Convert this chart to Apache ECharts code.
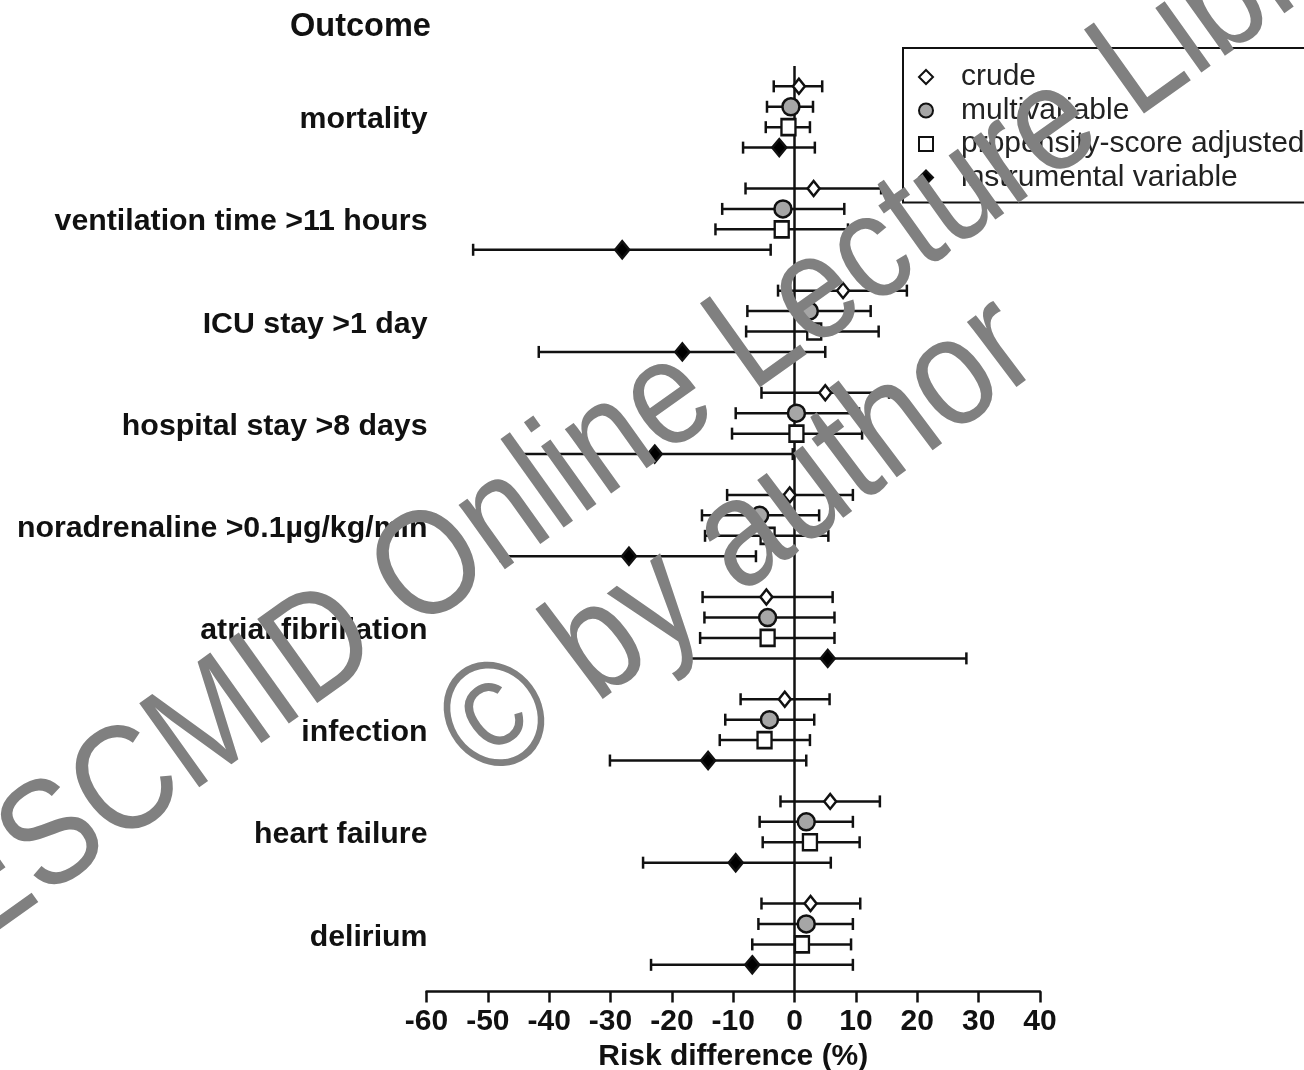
<!DOCTYPE html>
<html>
<head>
<meta charset="utf-8">
<title>Risk difference by outcome</title>
<script src="https://cdn.jsdelivr.net/npm/echarts@6/dist/echarts.min.js"></script>
<style>
  html, body { margin: 0; padding: 0; background: #fff; }
  #chart { width: 1304px; height: 1070px; }
</style>
</head>
<body>
<div id="chart"></div>
<script>
// outcomes, top to bottom
const outcomes = ['mortality', 'ventilation time >11 hours', 'ICU stay >1 day', 'hospital stay >8 days',
  'noradrenaline >0.1µg/kg/min', 'atrial fibrillation', 'infection', 'heart failure', 'delirium'];

// risk difference (%) with lower / upper CI, one value per outcome
const crudeEst  = [0.7, 3.1, 7.9, 5.0, -0.8, -4.6, -1.6, 5.8, 2.6];
const crudeLow  = [-3.4, -8.0, -2.7, -5.4, -11.0, -15.0, -8.8, -2.3, -5.4];
const crudeHigh = [4.5, 14.1, 18.3, 15.4, 9.5, 6.2, 5.7, 13.9, 10.7];

const multiEst  = [-0.6, -1.9, 2.4, 0.3, -5.7, -4.4, -4.1, 1.9, 1.9];
const multiLow  = [-4.5, -11.8, -7.7, -9.6, -15.1, -14.7, -11.3, -5.7, -5.9];
const multiHigh = [3.0, 8.1, 12.4, 10.5, 4.0, 6.5, 3.2, 9.5, 9.5];

const propEst  = [-1.0, -2.1, 3.2, 0.3, -4.4, -4.4, -4.9, 2.5, 1.2];
const propLow  = [-4.7, -12.9, -7.9, -10.2, -14.6, -15.4, -12.2, -5.2, -6.9];
const propHigh = [2.5, 8.7, 13.7, 11.0, 5.5, 6.5, 2.5, 10.6, 9.2];

const ivEst  = [-2.5, -28.1, -18.3, -22.8, -27.0, 5.4, -14.1, -9.6, -6.9];
const ivLow  = [-8.4, -52.4, -41.7, -44.9, -47.9, -17.4, -30.1, -24.7, -23.4];
const ivHigh = [3.3, -3.9, 5.0, -0.3, -6.3, 28.0, 1.9, 5.9, 9.5];

const methodNames = ['crude', 'multivariable', 'propensity-score adjusted', 'instrumental variable'];

const FONT = '"Liberation Sans", Arial, Helvetica, sans-serif';

// marker look per method
const methods = [
  { name: methodNames[0], est: crudeEst, low: crudeLow, high: crudeHigh, symbol: 'diamond', size: [12, 15], fill: '#fff' },
  { name: methodNames[1], est: multiEst, low: multiLow, high: multiHigh, symbol: 'circle', size: 17, fill: '#a6a6a6' },
  { name: methodNames[2], est: propEst, low: propLow, high: propHigh, symbol: 'rect', size: [14, 16], fill: '#fff' },
  { name: methodNames[3], est: ivEst, low: ivLow, high: ivHigh, symbol: 'diamond', size: [14, 17], fill: '#000' }
];

// each outcome takes 5 slots: 4 rows + a gap
function rowPos(g, r) { return g * 5 + r + 1; }

const ciData = [];
methods.forEach((m, r) => {
  m.est.forEach((v, g) => ciData.push([m.low[g], m.high[g], rowPos(g, r)]));
});

function renderCI(params, api) {
  const pos = api.value(2);
  const a = api.coord([api.value(0), pos]);
  const b = api.coord([api.value(1), pos]);
  const st = { stroke: '#111', lineWidth: 2.5 };
  const cap = 6;
  return {
    type: 'group',
    children: [
      { type: 'line', shape: { x1: a[0], y1: a[1], x2: b[0], y2: b[1] }, style: st },
      { type: 'line', shape: { x1: a[0], y1: a[1] - cap, x2: a[0], y2: a[1] + cap }, style: st },
      { type: 'line', shape: { x1: b[0], y1: b[1] - cap, x2: b[0], y2: b[1] + cap }, style: st }
    ]
  };
}

const series = [{
  type: 'custom',
  name: 'ci',
  renderItem: renderCI,
  encode: { x: [0, 1], y: 2 },
  data: ciData,
  z: 2,
  markLine: {
    silent: true,
    symbol: ['none', 'none'],
    label: { show: false },
    lineStyle: { color: '#111', width: 2.5, type: 'solid' },
    data: [{ xAxis: 0 }]
  }
}];

methods.forEach((m, r) => {
  series.push({
    type: 'scatter',
    name: m.name,
    symbol: m.symbol,
    symbolSize: m.size,
    z: 5,
    itemStyle: { color: m.fill, borderColor: '#111', borderWidth: 2.5, opacity: 1 },
    data: m.est.map((v, g) => [v, rowPos(g, r)])
  });
});

const chart = echarts.init(document.getElementById('chart'));
chart.setOption({
  backgroundColor: '#fff',
  animation: false,
  title: {
    text: 'Outcome',
    left: 285,
    top: 6,
    textStyle: { fontFamily: FONT, fontSize: 32.5, fontWeight: 'bold', color: '#111' }
  },
  legend: {
    data: methodNames,
    orient: 'vertical',
    left: 903,
    top: 48,
    itemWidth: 14,
    itemHeight: 14,
    itemGap: 3.5,
    padding: [14, 22, 10, 15],
    borderColor: '#111',
    borderWidth: 2,
    selectedMode: false,
    textStyle: { fontFamily: FONT, fontSize: 30, lineHeight: 30, color: '#222', padding: [0, 0, 0, 23] }
  },
  grid: { left: 426.5, right: 264, top: 65.9, bottom: 78.6, outerBoundsMode: 'none' },
  xAxis: {
    type: 'value',
    position: 'bottom',
    min: -60,
    max: 40,
    interval: 10,
    name: 'Risk difference (%)',
    nameLocation: 'middle',
    nameGap: 41,
    nameTextStyle: { fontFamily: FONT, fontSize: 30, fontWeight: 'bold', color: '#111' },
    axisLine: { onZero: false, lineStyle: { color: '#111', width: 2.5 } },
    axisTick: { length: 11, lineStyle: { color: '#111', width: 2.5 } },
    axisLabel: { margin: 15, fontFamily: FONT, fontSize: 30, fontWeight: 'bold', color: '#111' },
    splitLine: { show: false }
  },
  yAxis: {
    type: 'value',
    inverse: true,
    min: 0,
    max: 45.3,
    interval: 2.5,
    axisLine: { show: false },
    axisTick: { show: false },
    splitLine: { show: false },
    axisLabel: {
      margin: -1,
      verticalAlign: 'top',
      lineHeight: 6,
      fontFamily: FONT,
      fontSize: 30.3,
      fontWeight: 'bold',
      color: '#111',
      showMaxLabel: false,
      formatter: function (v) {
        const k = (v - 2.5) / 5;
        const i = Math.round(k);
        return Math.abs(k - i) < 1e-6 && i >= 0 && i < outcomes.length ? outcomes[i] : '';
      }
    }
  },
  graphic: [
    {
      type: 'text', silent: true, z: 100,
      x: 692, y: 385, rotation: 35.5 * Math.PI / 180, scaleX: 0.87,
      style: { text: 'ESCMID Online Lecture Library', fontFamily: FONT, fontSize: 150, fill: '#808080', align: 'center', verticalAlign: 'middle' }
    },
    {
      type: 'text', silent: true, z: 100,
      x: 740, y: 542, rotation: 37 * Math.PI / 180, scaleX: 0.87,
      style: { text: '© by author', fontFamily: FONT, fontSize: 155, fill: '#808080', align: 'center', verticalAlign: 'middle' }
    }
  ],
  series: series
});
</script>
</body>
</html>
